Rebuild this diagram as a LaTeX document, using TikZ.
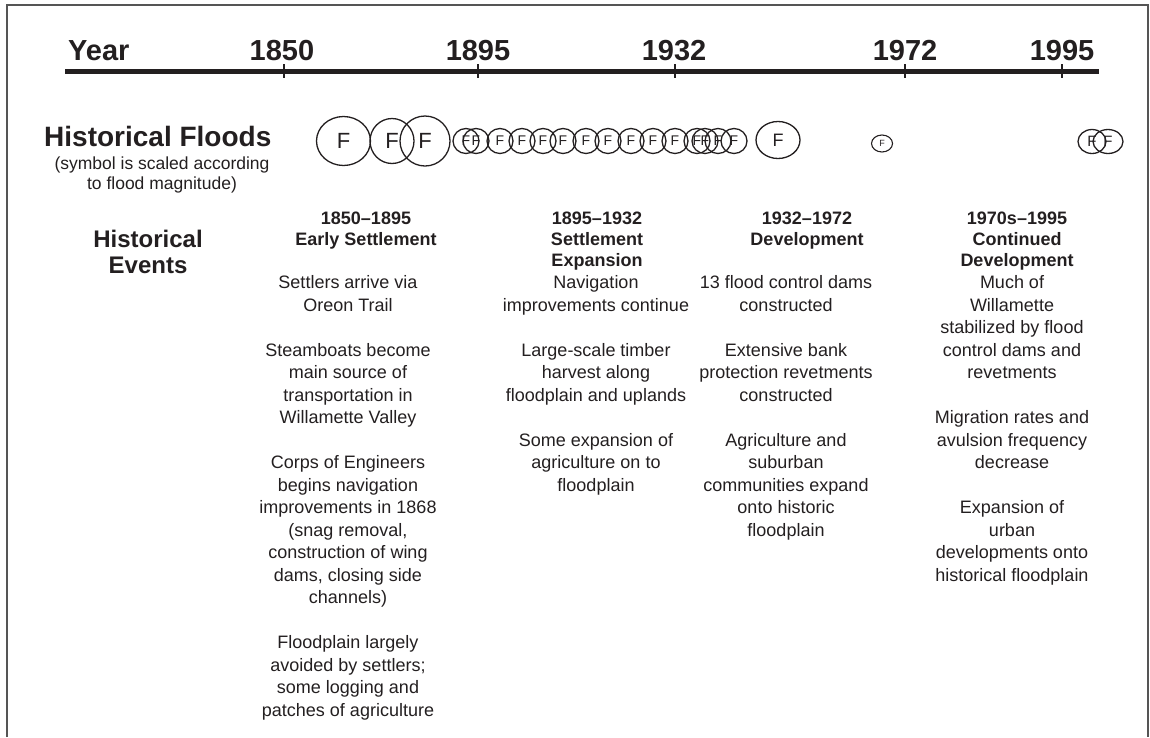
\documentclass[tikz,border=0pt]{standalone}
\usepackage{fontspec}
\setmainfont{Liberation Sans}
\usetikzlibrary{shapes.geometric}
\definecolor{ink}{HTML}{231F20}
\definecolor{frame}{HTML}{555555}
\begin{document}
\begin{tikzpicture}[x=1pt,y=-1pt,
  yr/.style={font=\fontsize{29}{34}\selectfont\bfseries, anchor=base, inner sep=0pt, text=ink},
  ttl/.style={font=\fontsize{28}{32}\selectfont\bfseries, anchor=base west, inner sep=0pt, text=ink},
  sub/.style={font=\fontsize{17.5}{20}\selectfont, align=center, anchor=base, inner sep=0pt, text=ink},
  evt/.style={font=\fontsize{24}{26}\selectfont\bfseries, align=center, anchor=base, inner sep=0pt, text=ink},
  hdr/.style={font=\fontsize{18}{21}\selectfont\bfseries, align=center, anchor=base, inner sep=0pt, text=ink},
  body/.style={font=\fontsize{18}{22.5}\selectfont, align=center, anchor=base, inner sep=0pt, text=ink},
  flood/.style={draw=ink, line width=1.3pt, ellipse, inner sep=0pt, text=ink},
  big/.style={flood, font=\fontsize{22}{22}\selectfont},
  sm/.style={flood, minimum width=26pt, minimum height=25pt, font=\fontsize{14}{14}\selectfont},
  tick/.style={draw=ink, line width=1.8pt}
]
\useasboundingbox (0,0) rectangle (1150,737);
% frame
\draw[draw=frame, line width=1.5pt] (7,737) -- (7,5) -- (1148,5) -- (1148,737);

% year axis
\node[yr, anchor=base west] (year) at (68,60) {Year};
\node[yr] (y1850) at (282,60) {1850};
\node[yr] (y1895) at (478,60) {1895};
\node[yr] (y1932) at (674,60) {1932};
\node[yr] (y1972) at (905,60) {1972};
\node[yr] (y1995) at (1062,60) {1995};
\coordinate (axL) at (65,71.5);
\coordinate (axR) at (1099,71.5);
\draw[draw=ink, line width=4.5pt] (axL) -- (axR);
\foreach \x in {284,478,675,905,1062}{\draw[tick] (\x,64) -- (\x,78);}

% floods
\node[ttl] (floods) at (44,146) {Historical Floods};
\node[sub] (floodsub) at (162,189) {(symbol is scaled according\\to flood magnitude)};

\node[big, minimum width=54pt, minimum height=49pt] (b1) at (343.5,141) {F};
\node[big, minimum width=44pt, minimum height=45pt] (b2) at (392,141) {F};
\node[big, minimum width=50pt, minimum height=50pt] (b3) at (425,141) {F};
\foreach \x [count=\i] in {466,476,500,522,543,563,586,608,631,653,675,697,705,718,734}{
  \node[sm] (s\i) at (\x,141) {F};
}
\node[flood, minimum width=44pt, minimum height=37pt, font=\fontsize{18}{18}\selectfont] (m1) at (778,140) {F};
\node[flood, minimum width=21pt, minimum height=17pt, line width=1.1pt, font=\fontsize{9}{9}\selectfont] (t1) at (882,143.5) {F};
\node[flood, minimum width=28pt, minimum height=24pt, font=\fontsize{15}{15}\selectfont] (r1) at (1092,141.5) {F};
\node[flood, minimum width=30pt, minimum height=24pt, font=\fontsize{15}{15}\selectfont] (r2) at (1108,141.5) {F};

% events (anchor base = last line)
\node[evt] (events) at (148,273) {Historical\\Events};

\node[hdr] (h1) at (366,245) {1850--1895\\Early Settlement};
\node[hdr] (h2) at (597,266) {1895--1932\\Settlement\\Expansion};
\node[hdr] (h3) at (807,245) {1932--1972\\Development};
\node[hdr] (h4) at (1017,266) {1970s--1995\\Continued\\Development};

\node[body] (c1) at (348,716) {Settlers arrive via\\Oreon Trail\\[22.5pt]Steamboats become\\main source of\\transportation in\\Willamette Valley\\[22.5pt]Corps of Engineers\\begins navigation\\improvements in 1868\\(snag removal,\\construction of wing\\dams, closing side\\channels)\\[22.5pt]Floodplain largely\\avoided by settlers;\\some logging and\\patches of agriculture};
\node[body] (c2) at (596,491) {Navigation\\improvements continue\\[22.5pt]Large-scale timber\\harvest along\\floodplain and uplands\\[22.5pt]Some expansion of\\agriculture on to\\floodplain};
\node[body] (c3) at (786,536) {13 flood control dams\\constructed\\[22.5pt]Extensive bank\\protection revetments\\constructed\\[22.5pt]Agriculture and\\suburban\\communities expand\\onto historic\\floodplain};
\node[body] (c4) at (1012,581) {Much of\\Willamette\\stabilized by flood\\control dams and\\revetments\\[22.5pt]Migration rates and\\avulsion frequency\\decrease\\[22.5pt]Expansion of\\urban\\developments onto\\historical floodplain};
\end{tikzpicture}
\end{document}
